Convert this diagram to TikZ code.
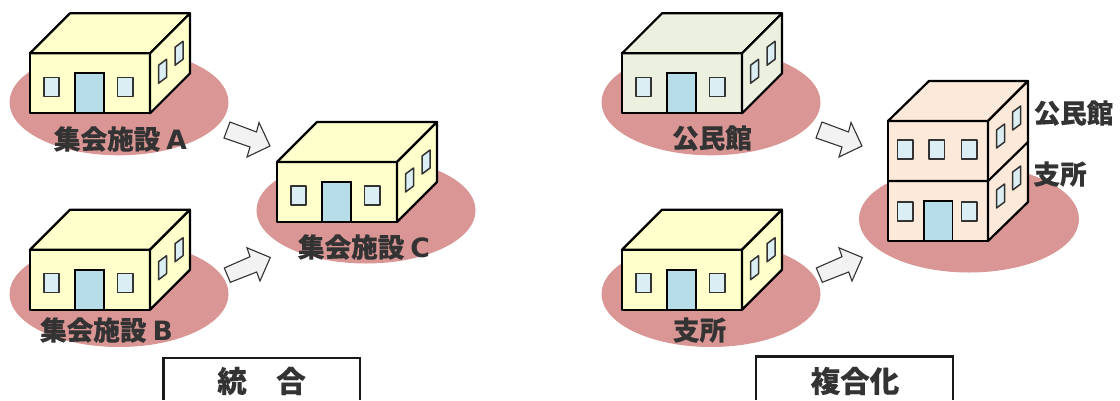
\documentclass[tikz,border=0pt]{standalone}
\usepackage{fontspec}
\setmainfont[BoldFeatures={FakeBold=0.3}]{Noto Sans CJK JP}
\newfontfamily\latb{DejaVu Sans}
\definecolor{lotclr}{HTML}{D99694}
\definecolor{yelclr}{HTML}{FFFFCC}
\definecolor{grnclr}{HTML}{EBF1DE}
\definecolor{pnkclr}{HTML}{FDE9D9}
\definecolor{doorclr}{HTML}{B7DEE8}
\definecolor{winclr}{HTML}{DBEEF4}
\definecolor{arrclr}{HTML}{F2F2F2}
\definecolor{txtclr}{HTML}{333333}
\tikzset{
  x=1pt,y=-1pt,
  wall/.style={draw=black,line width=2.2pt,line join=round},
  door/.style={draw=black,line width=1.9pt,fill=doorclr},
  win/.style={draw=txtclr,line width=1.5pt,fill=winclr,line join=round},
  blockarrow/.style={draw=txtclr,line width=1.1pt,fill=arrclr,line join=miter},
  lbl/.style={text=txtclr,font=\fontsize{26.6}{30}\selectfont\bfseries,inner sep=0pt,anchor=center},
  ttl/.style={text=txtclr,font=\fontsize{29.5}{32}\selectfont\bfseries,inner sep=0pt,anchor=center},
  framebox/.style={draw=black!90,line width=2.2pt,line join=miter},
}
\newcommand{\sidewin}[2]{%
  \draw[win] (#1,#2) -- ++(8,-6) -- ++(0,18) -- ++(-8,6) -- cycle;}
\newcommand{\lowhouse}[4]{% x, y, colour, lot drop
  \begin{scope}[shift={(#1,#2)}]
    \fill[lotclr] (89,#4) ellipse [x radius=109.5,y radius=53];
    \draw[wall,fill=#3] (0,0) rectangle (120,-60);
    \draw[wall,fill=#3] (0,-60) -- (40,-100) -- (160,-100) -- (120,-60) -- cycle;
    \draw[wall,fill=#3] (120,0) -- (160,-40) -- (160,-100) -- (120,-60) -- cycle;
    \draw[win] (14,-36) rectangle (29,-17);
    \draw[win] (87.5,-36) rectangle (103,-17);
    \draw[door] (45,0) rectangle (74,-40);
    \sidewin{128.5}{-48}
    \sidewin{145}{-66}
  \end{scope}}
\newcommand{\upperarrow}[1]{%
  \draw[blockarrow,shift={(#1,0)}] (224,138) -- (230,122) -- (256.5,132) -- (259,122.5) -- (270,146) -- (247,157) -- (250,147) -- cycle;}
\newcommand{\lowerarrow}[1]{%
  \draw[blockarrow,shift={(#1,0)}] (224.3,268) -- (230.3,282.3) -- (256.7,272) -- (260,281) -- (270.3,257.5) -- (247,247.8) -- (250,256.7) -- cycle;}
\begin{document}
\begin{tikzpicture}
\useasboundingbox[fill=white] (0,0) rectangle (1120,400);
\lowhouse{30}{113.3}{yelclr}{-11}
\lowhouse{30}{309.7}{yelclr}{-15.7}
\lowhouse{277}{222}{yelclr}{-11.5}
\lowhouse{622}{113.3}{grnclr}{-11}
\lowhouse{622}{309.7}{yelclr}{-15.7}
\fill[lotclr] (969,219) ellipse [x radius=110,y radius=53.5];
\draw[wall,fill=pnkclr] (888,241) rectangle (988,121);
\draw[wall,fill=pnkclr] (888,121) -- (929,81) -- (1028,81) -- (988,121) -- cycle;
\draw[wall,fill=pnkclr] (988,241) -- (1028,202) -- (1028,81) -- (988,121) -- cycle;
\draw[wall] (888,181) -- (988,181) -- (1028,142);
\draw[win] (897.5,140) rectangle (913,159);
\draw[win] (929,140) rectangle (944.5,159);
\draw[win] (961.5,140) rectangle (977,159);
\draw[win] (897.5,202) rectangle (913,221);
\draw[win] (961.5,202) rectangle (977,221);
\draw[door] (924,201) rectangle (952.5,241);
\sidewin{996.5}{130}
\sidewin{1012.7}{112}
\sidewin{996.5}{190}
\sidewin{1012.7}{172}
\upperarrow{0}
\lowerarrow{0}
\upperarrow{592}
\lowerarrow{592}
\node[lbl] (la) at (120.5,139) {集会施設 {\latb A}};
\node[lbl] (lb) at (106.5,330) {集会施設 {\latb B}};
\node[lbl] (lc) at (364,247) {集会施設 {\latb C}};
\node[lbl] (ld) at (712,138) {公民館};
\node[lbl] (le) at (699.5,330) {支所};
\node[lbl] (lf) at (1073.5,113) {公民館};
\node[lbl] (lg) at (1060,174) {支所};
\draw[framebox] (163.5,400) -- (163.5,358) -- (360,358) -- (360,400);
\draw[framebox] (756,400) -- (756,356.5) -- (953,356.5) -- (953,400);
\node[ttl] (ta) at (261.5,381) {統　合};
\node[ttl] (tb) at (855,381) {複合化};
\end{tikzpicture}
\end{document}
